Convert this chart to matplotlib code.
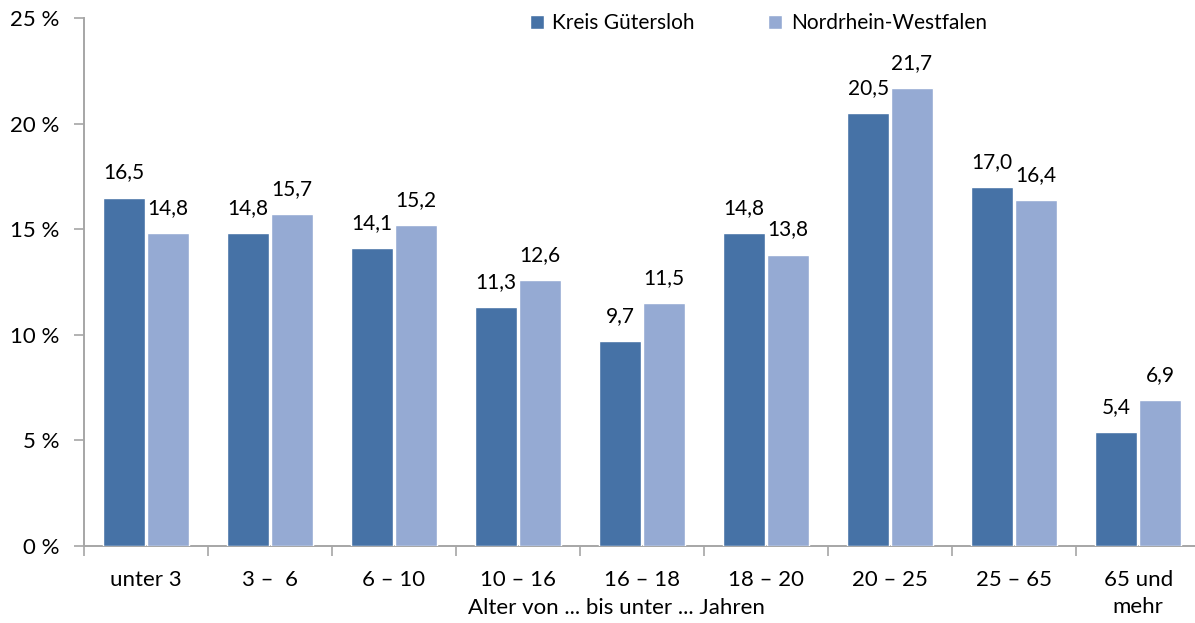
import numpy as np
import matplotlib.pyplot as plt
from matplotlib.ticker import FixedLocator, FuncFormatter

plt.rcParams["font.family"] = ["Lato", "DejaVu Sans"]

categories = ["unter 3", "3 –  6", "6 – 10", "10 – 16", "16 – 18",
              "18 – 20", "20 – 25", "25 – 65", "65 und\nmehr"]
guetersloh = [16.5, 14.8, 14.1, 11.3, 9.7, 14.8, 20.5, 17.0, 5.4]
nrw = [14.8, 15.7, 15.2, 12.6, 11.5, 13.8, 21.7, 16.4, 6.9]

c_dark = "#4672A6"
c_light = "#95AAD3"
c_axis = "#A6A6A6"

fig = plt.figure(figsize=(11.95, 6.23), dpi=100)
ax = fig.add_axes([0.0703, 0.1236, 0.934, 0.8475])

x = np.arange(len(categories))
w = 0.34
off = 0.177
b1 = ax.bar(x - off, guetersloh, w, color=c_dark, edgecolor="white", lw=1,
            label="Kreis Gütersloh", zorder=3)
b2 = ax.bar(x + off, nrw, w, color=c_light, edgecolor="white", lw=1,
            label="Nordrhein-Westfalen", zorder=3)

for bars, vals in ((b1, guetersloh), (b2, nrw)):
    for r, v in zip(bars, vals):
        ax.annotate(f"{v:.1f}".replace(".", ","),
                    (r.get_x() + r.get_width() / 2, r.get_height()),
                    xytext=(0, 18), textcoords="offset points",
                    ha="center", va="center", fontsize=15)

ax.set_xlim(-0.5, len(categories) - 0.5)
ax.set_ylim(0, 25)
ax.set_yticks([0, 5, 10, 15, 20, 25])
ax.yaxis.set_major_formatter(FuncFormatter(lambda v, p: f"{v:.0f} %"))

ax.set_xticks(x)
ax.set_xticklabels(categories, fontsize=16, linespacing=1.45)
ax.xaxis.set_minor_locator(FixedLocator(np.arange(-0.5, len(categories), 1.0)))
ax.tick_params(axis="x", which="major", length=0, pad=17)
ax.tick_params(axis="x", which="minor", length=7, color=c_axis, width=1.2)
ax.tick_params(axis="y", length=7, color=c_axis, width=1.2, labelsize=16, pad=11)
fig.text(616 / 1195, 1 - 608 / 623, "Alter von ... bis unter ... Jahren",
         fontsize=16, ha="center", va="center")

for s in ("top", "right"):
    ax.spines[s].set_visible(False)
for s in ("left", "bottom"):
    ax.spines[s].set_color(c_axis)
    ax.spines[s].set_linewidth(1.4)

ax.legend(loc="center", bbox_to_anchor=(0.604, 0.99), ncol=2, frameon=False,
          fontsize=15, handlelength=0.7, handleheight=0.7, handletextpad=0.4,
          columnspacing=3.5)

fig.savefig("out.png", dpi=100)
